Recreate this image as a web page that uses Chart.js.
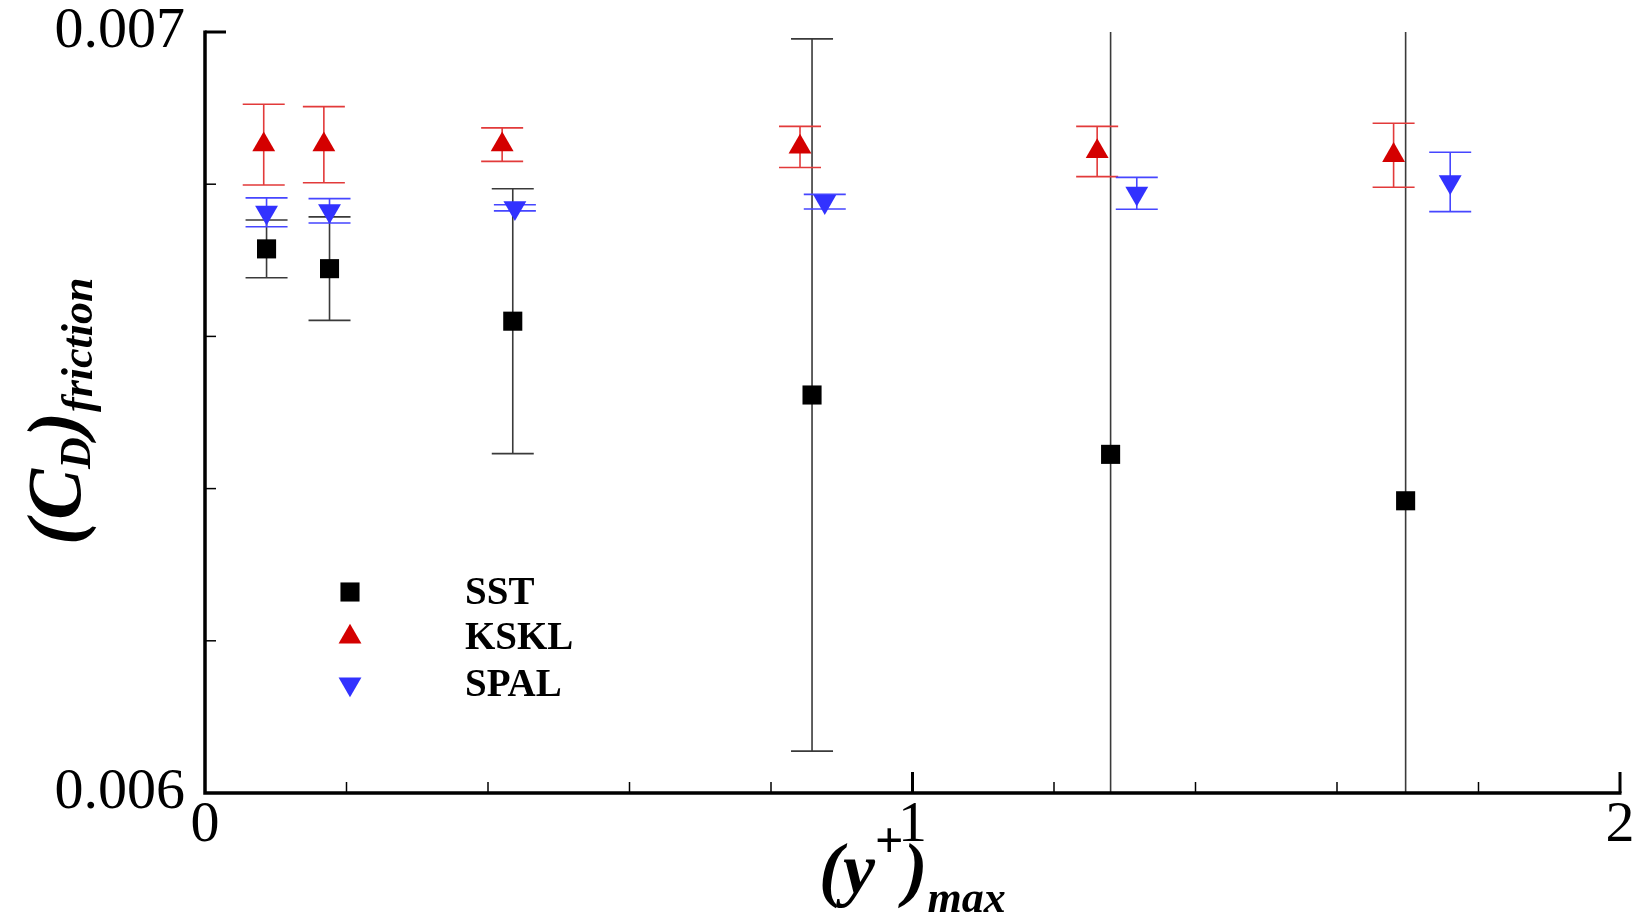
<!DOCTYPE html>
<html>
<head>
<meta charset="utf-8">
<title>(CD)friction vs (y+)max</title>
<script src="https://cdn.jsdelivr.net/npm/chart.js@4.4.0/dist/chart.umd.min.js"></script>
<style>
  html, body { margin: 0; padding: 0; background: #fff; }
  #wrap { width: 1640px; height: 917px; }
</style>
</head>
<body>
<div id="wrap"><canvas id="cdChart" width="1640" height="917"></canvas></div>
<script>
// values
let seriesNames = ["SST", "KSKL", "SPAL"];

let sstX = [0.087, 0.176, 0.435, 0.858, 1.280, 1.697];
let sstY = [0.006715, 0.006689, 0.006620, 0.006523, 0.006445, 0.006384];
let sstErr = [0.000038, 0.000068, 0.000174, 0.000468, 0.00065, 0.00070];

let ksklX = [0.083, 0.168, 0.420, 0.841, 1.261, 1.680];
let ksklY = [0.006852, 0.006852, 0.006852, 0.006849, 0.006843, 0.006838];
let ksklErr = [0.000053, 0.000050, 0.000022, 0.000027, 0.000033, 0.000042];

let spalX = [0.087, 0.176, 0.438, 0.876, 1.317, 1.760];
let spalY = [0.006763, 0.006765, 0.006769, 0.006777, 0.006788, 0.006803];
let spalErr = [0.000019, 0.000016, 0.000004, 0.0000096, 0.000021, 0.000039];

let xTickLabels = ["0", "1", "2"];
let yTickLabels = ["0.006", "0.007"];

const SERIF = '"Liberation Serif", "Times New Roman", serif';

function toPoints(xs, ys) {
    return xs.map((x, i) => ({ x: x, y: ys[i] }));
}

// error bars, drawn under the markers
const errorBars = {
    id: 'errorBars',
    beforeDatasetsDraw(chart) {
        const { ctx, chartArea, scales } = chart;
        const sets = [
            { x: sstX, y: sstY, e: sstErr, color: '#3a3a3a' },
            { x: ksklX, y: ksklY, e: ksklErr, color: '#e23a3a' },
            { x: spalX, y: spalY, e: spalErr, color: '#4646ff' }
        ];
        ctx.save();
        ctx.beginPath();
        ctx.rect(chartArea.left, chartArea.top, chartArea.right - chartArea.left, chartArea.bottom - chartArea.top);
        ctx.clip();
        ctx.lineWidth = 1.6;
        sets.forEach(s => {
            ctx.strokeStyle = s.color;
            s.x.forEach((xv, i) => {
                const px = scales.x.getPixelForValue(xv);
                const top = scales.y.getPixelForValue(s.y[i] + s.e[i]);
                const bot = scales.y.getPixelForValue(s.y[i] - s.e[i]);
                ctx.beginPath();
                ctx.moveTo(px, top); ctx.lineTo(px, bot);
                ctx.moveTo(px - 21, top); ctx.lineTo(px + 21, top);
                ctx.moveTo(px - 21, bot); ctx.lineTo(px + 21, bot);
                ctx.stroke();
            });
        });
        ctx.restore();
    }
};

// axis lines with inward ticks, legend and the two axis titles
const frame = {
    id: 'frame',
    afterDraw(chart) {
        const { ctx, chartArea, scales } = chart;
        const L = chartArea.left, R = chartArea.right, T = chartArea.top, B = chartArea.bottom;
        ctx.save();
        ctx.strokeStyle = '#000';
        ctx.lineCap = 'butt';

        scales.x.ticks.forEach(t => {
            const px = scales.x.getPixelForValue(t.value);
            const major = Math.abs(t.value - Math.round(t.value)) < 1e-6;
            if (px <= L + 1) return;
            ctx.lineWidth = major ? 3 : 1.5;
            ctx.beginPath();
            ctx.moveTo(px, B);
            ctx.lineTo(px, B - (major ? 21 : 11));
            ctx.stroke();
        });
        scales.y.ticks.forEach(t => {
            const py = scales.y.getPixelForValue(t.value);
            const major = Math.abs(t.value * 1000 - Math.round(t.value * 1000)) < 1e-6;
            if (py >= B - 1) return;
            ctx.lineWidth = major ? 3 : 1.5;
            ctx.beginPath();
            ctx.moveTo(L, py);
            ctx.lineTo(L + (major ? 21 : 11), py);
            ctx.stroke();
        });

        ctx.lineWidth = 3.5;
        ctx.beginPath();
        ctx.moveTo(L, T - 1.5);
        ctx.lineTo(L, B);
        ctx.lineTo(R + 1.5, B);
        ctx.stroke();

        // legend
        const rows = [592, 637, 684];
        chart.data.datasets.forEach((ds, i) => {
            ctx.fillStyle = ds.backgroundColor;
            ctx.strokeStyle = ds.backgroundColor;
            Chart.helpers.drawPoint(ctx, {
                pointStyle: ds.pointStyle,
                radius: ds.pointRadius,
                rotation: ds.pointRotation || 0,
                borderWidth: 0
            }, 350, rows[i]);
            ctx.fillStyle = '#000';
            ctx.font = 'bold 39px ' + SERIF;
            ctx.textAlign = 'left';
            ctx.textBaseline = 'middle';
            ctx.fillText(seriesNames[i], 465, rows[i] + 2);
        });

        // x title: (y+)max
        ctx.fillStyle = '#000';
        ctx.textAlign = 'left';
        ctx.textBaseline = 'alphabetic';
        let x = 819;
        const base = 893;
        const parts = [
            { t: '(y', f: 'bold italic 72px ' + SERIF, dy: 0 },
            { t: '+', f: 'bold 50px ' + SERIF, dy: -36 },
            { t: ')', f: 'bold italic 72px ' + SERIF, dy: 0 },
            { t: 'max', f: 'bold italic 44px ' + SERIF, dy: 19 }
        ];
        parts.forEach(p => {
            ctx.font = p.f;
            ctx.fillText(p.t, x, base + p.dy);
            x += ctx.measureText(p.t).width;
        });

        // y title: (CD)friction, rotated
        ctx.translate(80, 545);
        ctx.rotate(-Math.PI / 2);
        let yx = 0;
        const yparts = [
            { t: '(C', f: 'bold italic 76px ' + SERIF, dy: 0 },
            { t: 'D', f: 'bold italic 44px ' + SERIF, dy: 10 },
            { t: ')', f: 'bold italic 76px ' + SERIF, dy: 0 },
            { t: 'friction', f: 'bold italic 44px ' + SERIF, dy: 12 }
        ];
        yparts.forEach(p => {
            ctx.font = p.f;
            ctx.fillText(p.t, yx, p.dy);
            yx += ctx.measureText(p.t).width;
        });
        ctx.restore();
    }
};

let ctxC = document.getElementById("cdChart").getContext('2d');

let cdChart = new Chart(ctxC, {
    type: 'scatter',
    data: {
        datasets: [{
            label: seriesNames[0],
            data: toPoints(sstX, sstY),
            pointStyle: 'rect',
            pointRadius: 13.5,
            borderWidth: 0,
            backgroundColor: '#000000',
            borderColor: '#000000'
        }, {
            label: seriesNames[1],
            data: toPoints(ksklX, ksklY),
            pointStyle: 'triangle',
            pointRadius: 13.2,
            borderWidth: 0,
            backgroundColor: '#d40000',
            borderColor: '#d40000'
        }, {
            label: seriesNames[2],
            data: toPoints(spalX, spalY),
            pointStyle: 'triangle',
            pointRotation: 180,
            pointRadius: 13.2,
            borderWidth: 0,
            backgroundColor: '#3232ff',
            borderColor: '#3232ff'
        }]
    },
    options: {
        responsive: false,
        animation: false,
        layout: { padding: { top: 32, right: 20, left: 0, bottom: 0 } },
        plugins: {
            legend: { display: false },
            tooltip: { enabled: false }
        },
        scales: {
            x: {
                type: 'linear',
                min: 0,
                max: 2,
                grid: { display: false, drawTicks: false },
                border: { display: false },
                ticks: {
                    stepSize: 0.2,
                    autoSkip: false,
                    maxRotation: 0,
                    padding: 4,
                    color: '#000',
                    font: { family: SERIF, size: 58, lineHeight: 1 },
                    callback: function (v) {
                        const r = Math.round(v);
                        return Math.abs(v - r) < 1e-6 ? xTickLabels[r] : '';
                    }
                },
                afterFit: function (scale) { scale.height = 124; }
            },
            y: {
                type: 'linear',
                min: 0.006,
                max: 0.007,
                grid: { display: false, drawTicks: false },
                border: { display: false },
                ticks: {
                    stepSize: 0.0002,
                    autoSkip: false,
                    padding: 20,
                    color: '#000',
                    font: { family: SERIF, size: 58, lineHeight: 0.35 },
                    callback: function (v) {
                        const r = Math.round(v * 1000);
                        return Math.abs(v * 1000 - r) < 1e-6 ? yTickLabels[r - 6] : '';
                    }
                },
                afterFit: function (scale) { scale.width = 205; }
            }
        }
    },
    plugins: [errorBars, frame]
});
</script>
</body>
</html>
